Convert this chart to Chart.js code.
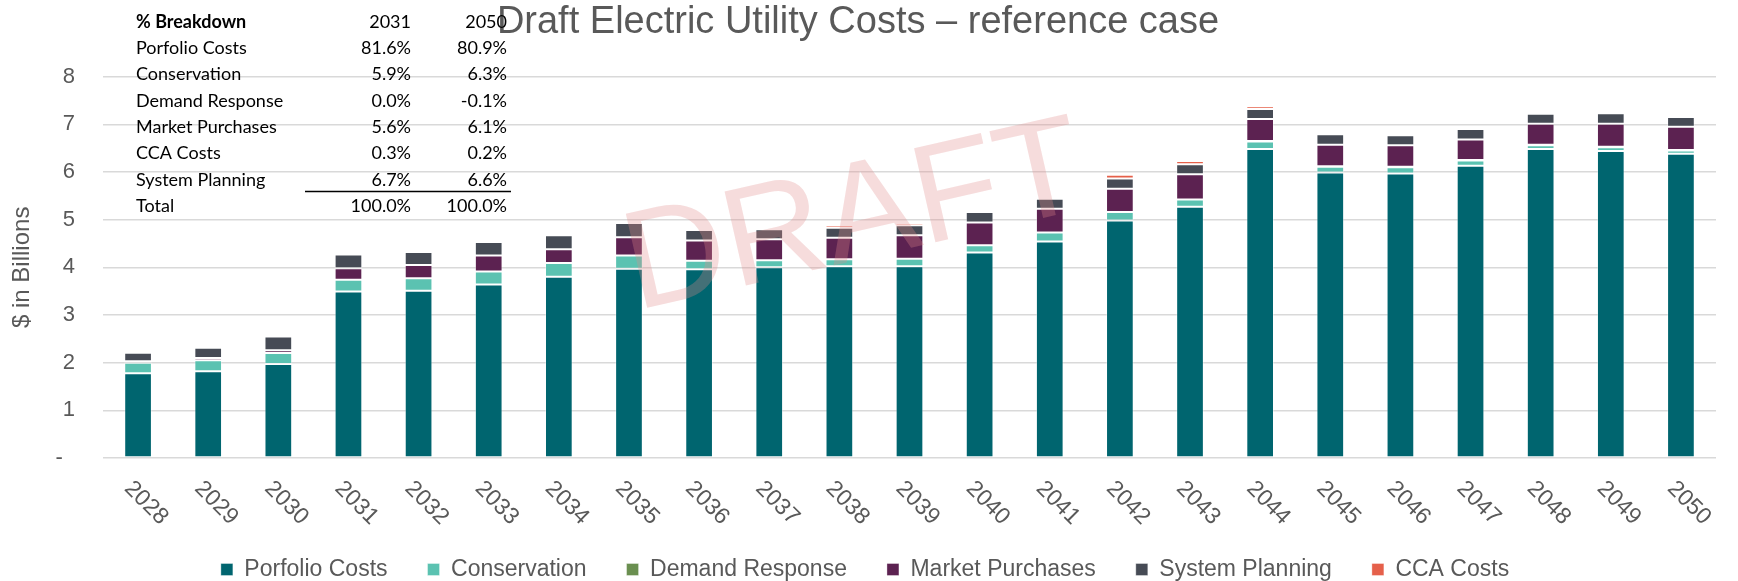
<!DOCTYPE html>
<html>
<head>
<meta charset="utf-8">
<script src="https://cdn.jsdelivr.net/npm/chart.js@4.4.1/dist/chart.umd.min.js"></script>
<style>
  html, body { margin: 0; padding: 0; background: #fff; }
  #wrap { width: 1738px; height: 581px; }
</style>
</head>
<body>
<div id="wrap"><canvas id="costChart" width="1738" height="581"></canvas></div>
<script>
// values in $ billions
const years = ["2028", "2029", "2030", "2031", "2032", "2033", "2034", "2035", "2036", "2037", "2038", "2039",
  "2040", "2041", "2042", "2043", "2044", "2045", "2046", "2047", "2048", "2049", "2050"];
const portfolioCosts = [1.78, 1.82, 1.97, 3.49, 3.51, 3.64, 3.80, 3.97, 3.96, 4.00, 4.02, 4.02,
  4.31, 4.54, 4.98, 5.27, 6.48, 5.99, 5.97, 6.13, 6.48, 6.44, 6.38];
const conservation = [0.22, 0.23, 0.23, 0.25, 0.26, 0.27, 0.29, 0.28, 0.18, 0.15, 0.15, 0.16,
  0.15, 0.19, 0.18, 0.15, 0.16, 0.12, 0.13, 0.11, 0.08, 0.08, 0.07];
const demandResponse = [0, 0, 0, 0, 0, 0, 0, 0, 0, 0, 0, 0,
  0, 0, 0, 0, 0.01, 0.01, 0.01, 0.01, 0.01, 0.01, 0.01];
const marketPurchases = [0.03, 0.05, 0.06, 0.24, 0.28, 0.34, 0.29, 0.38, 0.42, 0.44, 0.45, 0.49,
  0.48, 0.50, 0.49, 0.53, 0.46, 0.45, 0.45, 0.43, 0.44, 0.48, 0.49];
const systemPlanning = [0.18, 0.21, 0.29, 0.29, 0.27, 0.28, 0.29, 0.30, 0.22, 0.21, 0.21, 0.21,
  0.22, 0.21, 0.21, 0.21, 0.21, 0.22, 0.21, 0.22, 0.21, 0.22, 0.20];
const ccaCosts = [0.02, 0.02, 0.01, 0.01, 0.03, 0.01, 0.03, 0.01, 0.02, 0.03, 0.05, 0.05,
  0.03, 0.04, 0.08, 0.07, 0.06, 0, 0, 0, 0, 0, 0];

// % breakdown table in the top left corner
const breakdownHeader = ["% Breakdown", "2031", "2050"];
const breakdownLabels = ["Porfolio Costs", "Conservation", "Demand Response", "Market Purchases",
  "CCA Costs", "System Planning", "Total"];
const breakdown2031 = ["81.6%", "5.9%", "0.0%", "5.6%", "0.3%", "6.7%", "100.0%"];
const breakdown2050 = ["80.9%", "6.3%", "-0.1%", "6.1%", "0.2%", "6.6%", "100.0%"];

const yTickLabels = ["-  ", "1", "2", "3", "4", "5", "6", "7", "8"];

const FONT = "'Liberation Sans', Arial, sans-serif";
const GREY = "#595959";

const edge = "rgba(255,255,255,0.35)";
function series(label, data, color) {
  return {
    label: label,
    data: data,
    backgroundColor: color,
    borderColor: edge,
    borderWidth: 1,
    borderSkipped: false,
    categoryPercentage: 1,
    barPercentage: 0.395,
  };
}

// x labels run downward to the right, which the axis can't do itself
const slantedLabels = {
  id: "slantedLabels",
  afterDraw(chart) {
    const ctx = chart.ctx;
    const xs = chart.scales.x;
    const bottom = chart.chartArea.bottom;
    ctx.save();
    ctx.font = "23px " + FONT;
    ctx.fillStyle = GREY;
    ctx.textAlign = "left";
    ctx.textBaseline = "middle";
    years.forEach((yr, i) => {
      const x = xs.getPixelForTick(i);
      ctx.save();
      ctx.translate(x - 10, bottom + 27);
      ctx.rotate(Math.PI / 4);
      ctx.fillText(yr, 0, 0);
      ctx.restore();
    });
    ctx.restore();
  },
};

const breakdownTable = {
  id: "breakdownTable",
  afterDraw(chart) {
    const ctx = chart.ctx;
    ctx.save();
    ctx.fillStyle = "#000";
    ctx.textBaseline = "middle";
    const rowY = (i) => 22 + i * 26.3;
    const col1 = 411, col2 = 507;
    ctx.font = "bold 18px Lato, 'Noto Sans', sans-serif";
    ctx.textAlign = "left";
    ctx.fillText(breakdownHeader[0], 136, rowY(0));
    ctx.font = "18px Lato, 'Noto Sans', sans-serif";
    ctx.textAlign = "right";
    ctx.fillText(breakdownHeader[1], col1, rowY(0));
    ctx.fillText(breakdownHeader[2], col2, rowY(0));
    breakdownLabels.forEach((lbl, i) => {
      ctx.textAlign = "left";
      ctx.fillText(lbl, 136, rowY(i + 1));
      ctx.textAlign = "right";
      ctx.fillText(breakdown2031[i], col1, rowY(i + 1));
      ctx.fillText(breakdown2050[i], col2, rowY(i + 1));
    });
    ctx.strokeStyle = "#000";
    ctx.lineWidth = 1.5;
    ctx.beginPath();
    ctx.moveTo(305, 191.5);
    ctx.lineTo(511, 191.5);
    ctx.stroke();
    ctx.restore();
  },
};

const draftMark = {
  id: "draftMark",
  afterDraw(chart) {
    const ctx = chart.ctx;
    ctx.save();
    ctx.translate(855, 221);
    ctx.rotate(-12.8 * Math.PI / 180);
    ctx.font = "140px " + FONT;
    ctx.fillStyle = "rgba(225,140,140,0.3)";
    ctx.textAlign = "center";
    ctx.textBaseline = "middle";
    ctx.fillText("DRAFT", 0, 0);
    ctx.restore();
  },
};

// push the legend a little lower and right of where Chart.js puts it
const legendNudge = {
  id: "legendNudge",
  afterLayout(chart) {
    chart.legend.top += 10;
    chart.legend.bottom += 10;
    chart.legend.left += 7;
    chart.legend.right += 7;
  },
};

const costChart = new Chart(document.getElementById("costChart"), {
  type: "bar",
  data: {
    labels: years,
    datasets: [
      series("Porfolio Costs", portfolioCosts, "#00656F"),
      series("Conservation", conservation, "#5BC2B1"),
      series("Demand Response", demandResponse, "#6A8F50"),
      series("Market Purchases", marketPurchases, "#5C2251"),
      series("System Planning", systemPlanning, "#464B55"),
      series("CCA Costs", ccaCosts, "#E5604A"),
    ],
  },
  options: {
    responsive: false,
    animation: false,
    devicePixelRatio: 1,
    layout: { padding: { left: 0, right: 22, top: 0, bottom: 0 } },
    plugins: {
      title: {
        display: true,
        text: "Draft Electric Utility Costs \u2013 reference case",
        color: GREY,
        font: { family: FONT, size: 38, weight: "normal" },
        padding: { top: 0, bottom: 31 },
      },
      legend: {
        position: "bottom",
        labels: {
          color: GREY,
          font: { family: FONT, size: 23 },
          boxWidth: 12,
          boxHeight: 12,
          padding: 40,
        },
      },
      tooltip: { enabled: false },
    },
    scales: {
      x: {
        stacked: true,
        grid: { display: false },
        border: { display: false },
        ticks: { display: false },
        afterFit(scale) { scale.height = 50; },
      },
      y: {
        stacked: true,
        min: 0,
        max: 8,
        grid: { color: "#D9D9D9", lineWidth: 1.5, drawTicks: false },
        border: { display: false },
        ticks: {
          stepSize: 1,
          color: GREY,
          padding: 28,
          font: { family: FONT, size: 22 },
          callback: (v) => yTickLabels[v],
        },
        title: {
          display: true,
          text: "$ in Billions",
          color: GREY,
          font: { family: FONT, size: 24 },
          padding: { top: 8, bottom: 0 },
        },
        afterFit(scale) { scale.width = 103; },
      },
    },
  },
  plugins: [slantedLabels, breakdownTable, draftMark, legendNudge],
});
</script>
</body>
</html>
